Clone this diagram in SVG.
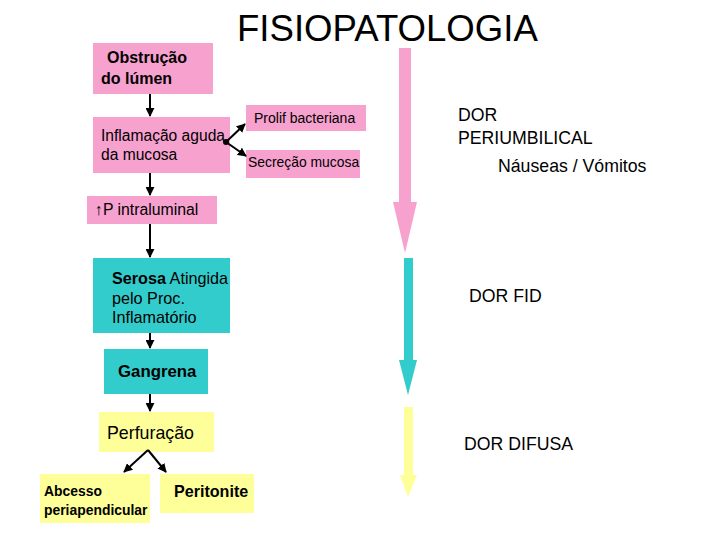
<svg xmlns="http://www.w3.org/2000/svg" width="720" height="540" viewBox="0 0 720 540">
<defs>
<style>
text{font-family:"Liberation Sans",Arial,sans-serif;fill:#000}
.pink{fill:#F7A1CF}
.teal{fill:#33CCCC}
.yel{fill:#FFFF99}
.b{font-weight:bold}
.c{stroke:#000;stroke-width:2;fill:none}
.r{font-size:17.7px}
</style>
<marker id="ah" viewBox="0 0 10 10" refX="9" refY="5" markerWidth="4.5" markerHeight="4.5" orient="auto"><path d="M0,0 L10,5 L0,10 z" fill="#000"/></marker>
<marker id="dot" viewBox="0 0 10 10" refX="5" refY="5" markerWidth="3" markerHeight="3"><circle cx="5" cy="5" r="5" fill="#000"/></marker>
</defs>
<rect width="720" height="540" fill="#fff"/>
<text x="237" y="41" font-size="36.6">FISIOPATOLOGIA</text>

<g id="obstrucao"><rect class="pink" x="93" y="43" width="120" height="51"/><text class="b" font-size="16" x="107" y="63">Obstrução</text><text class="b" font-size="16" x="101" y="84">do lúmen</text></g>
<g id="inflamacao"><rect class="pink" x="93" y="117" width="137" height="56"/><text font-size="15.6" x="101" y="141">Inflamação aguda</text><text font-size="15.6" x="101" y="160">da mucosa</text></g>
<g id="prolif"><rect class="pink" x="246" y="105" width="120" height="26"/><text font-size="14" x="254" y="123">Prolif bacteriana</text></g>
<g id="secrecao"><rect class="pink" x="246" y="150" width="114" height="28"/><text font-size="13.9" x="248" y="167">Secreção mucosa</text></g>
<g id="pressao"><rect class="pink" x="87" y="196" width="130" height="28"/><text font-size="15.8" x="95" y="215">↑P intraluminal</text></g>
<g id="serosa"><rect class="teal" x="93" y="258" width="137" height="75"/><text font-size="16.2" x="112" y="284"><tspan class="b">Serosa</tspan> Atingida</text><text font-size="16.2" x="112" y="304">pelo Proc.</text><text font-size="16.2" x="112" y="323">Inflamatório</text></g>
<g id="gangrena"><rect class="teal" x="104" y="349" width="104" height="45"/><text class="b" font-size="16.8" x="118" y="377">Gangrena</text></g>
<g id="perfuracao"><rect class="yel" x="99" y="412" width="115" height="40"/><text font-size="17.8" x="107" y="439">Perfuração</text></g>
<g id="abcesso"><rect class="yel" x="40" y="474" width="110" height="49"/><text class="b" font-size="13.9" x="44" y="496">Abcesso</text><text class="b" font-size="13.9" x="44" y="515">periapendicular</text></g>
<g id="peritonite"><rect class="yel" x="160" y="474" width="94" height="39"/><text class="b" font-size="16.1" x="174" y="497">Peritonite</text></g>

<g id="connectors">
<line class="c" x1="150" y1="94" x2="150" y2="116" marker-end="url(#ah)"/>
<line class="c" x1="150" y1="173" x2="150" y2="195" marker-end="url(#ah)"/>
<line class="c" x1="150" y1="224" x2="150" y2="257" marker-end="url(#ah)"/>
<line class="c" x1="150" y1="333" x2="150" y2="348" marker-end="url(#ah)"/>
<line class="c" x1="150" y1="394" x2="150" y2="411" marker-end="url(#ah)"/>
<line class="c" x1="226" y1="142" x2="245" y2="124" marker-start="url(#dot)" marker-end="url(#ah)"/>
<line class="c" x1="226" y1="142" x2="246" y2="156" marker-end="url(#ah)"/>
<line class="c" x1="148" y1="450" x2="124" y2="472" marker-end="url(#ah)"/>
<line class="c" x1="148" y1="450" x2="166" y2="472" marker-end="url(#ah)"/>
</g>

<g id="timeline">
<path class="pink" d="M399,48 H411 V202 H417 L405,253 L393,202 H399 Z"/>
<path class="teal" d="M404,258 H413 V360 H417 L408,395 L399,360 H404 Z"/>
<path class="yel" d="M404,407 H413 V475 H417 L408,497 L400,475 H404 Z"/>
</g>

<g id="labels">
<text class="r" x="458" y="121">DOR</text>
<text class="r" x="458" y="144">PERIUMBILICAL</text>
<text class="r" x="498" y="172">Náuseas / Vómitos</text>
<text class="r" x="469" y="302">DOR FID</text>
<text class="r" x="464" y="450">DOR DIFUSA</text>
</g>
</svg>
